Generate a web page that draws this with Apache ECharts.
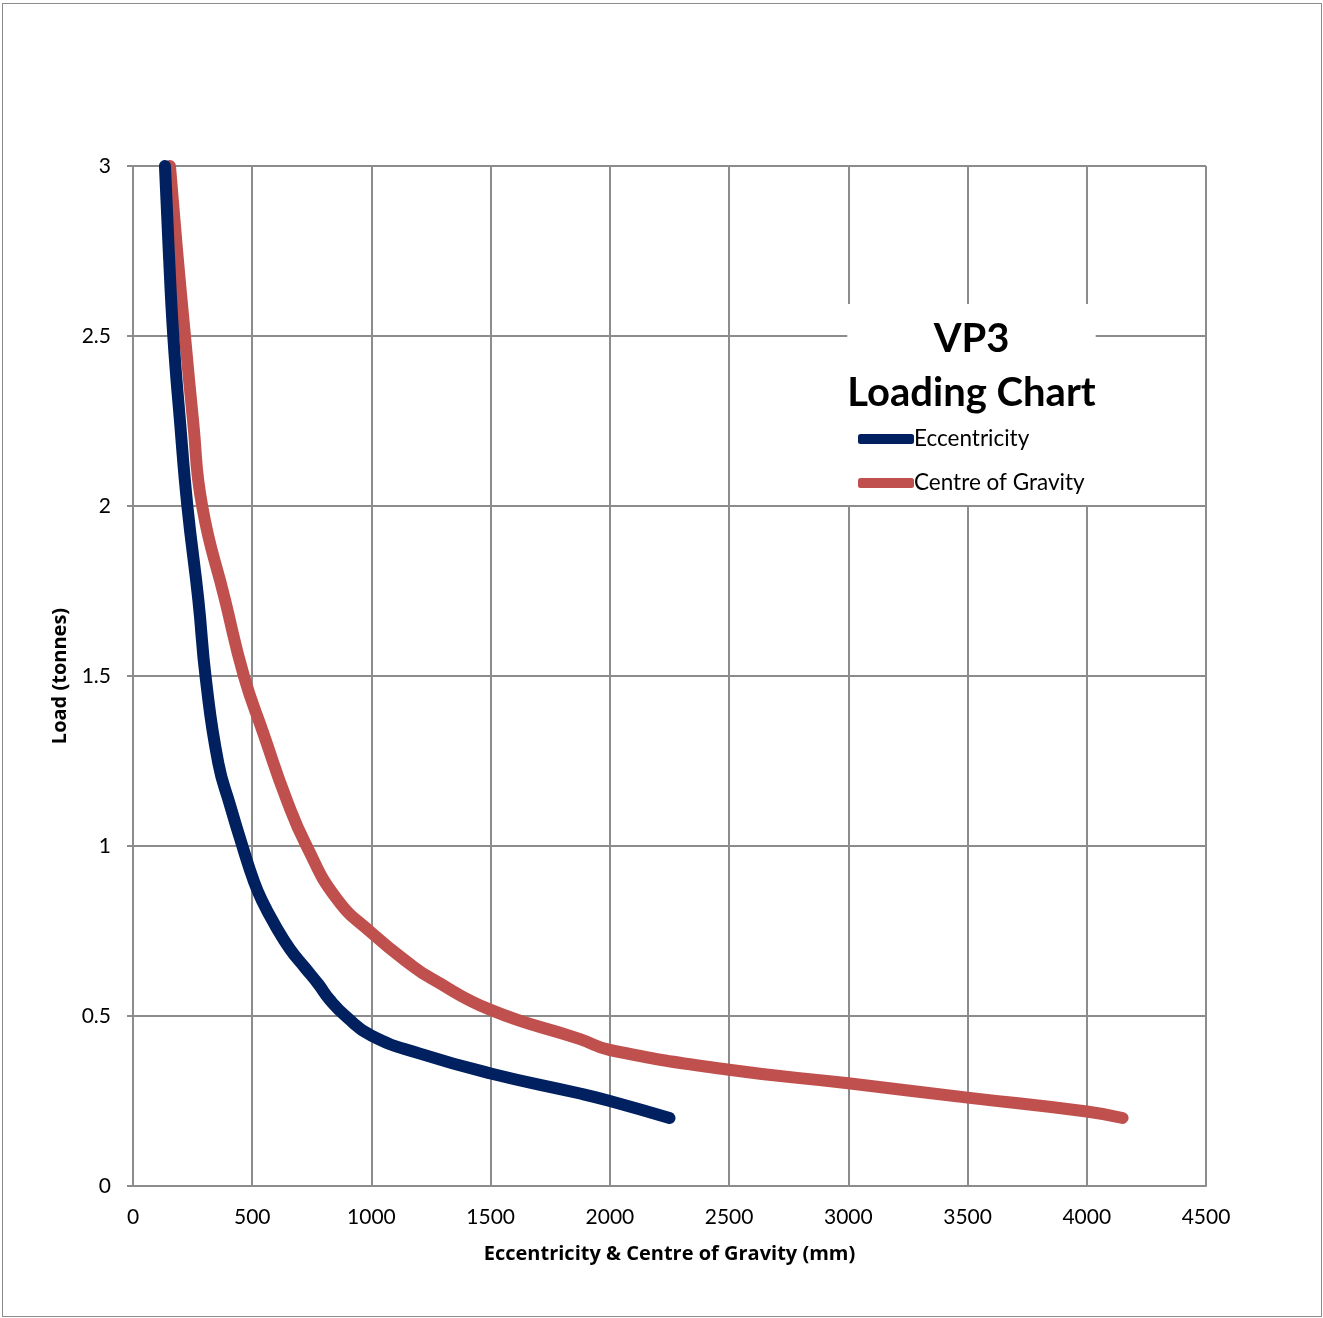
<!DOCTYPE html>
<html>
<head>
<meta charset="utf-8">
<script src="https://cdn.jsdelivr.net/npm/echarts@6/dist/echarts.min.js"></script>
<style>
html,body{margin:0;padding:0;background:#fff;}
#frame{position:absolute;left:2px;top:3px;width:1320px;height:1314px;border:1px solid #8c8c8c;box-sizing:border-box;}
#chart{position:absolute;left:0;top:0;width:1323px;height:1318px;}
</style>
</head>
<body>
<div id="frame"></div>
<div id="chart"></div>
<script>
const titleLines = ['VP3', 'Loading Chart'];
const seriesNames = ['Eccentricity', 'Centre of Gravity'];
const xTicks = [0, 500, 1000, 1500, 2000, 2500, 3000, 3500, 4000, 4500];
const yTicks = [0, 0.5, 1, 1.5, 2, 2.5, 3];
const xAxisName = 'Eccentricity & Centre of Gravity (mm)';
const yAxisName = 'Load (tonnes)';

// [mm, tonnes]
const eccentricity = [
  [134, 3.0], [150, 2.75], [169, 2.5], [197, 2.25], [228, 2.0], [274, 1.724],
  [306, 1.488], [358, 1.243], [407, 1.12], [463, 0.99], [505, 0.9], [540, 0.841],
  [600, 0.762], [658, 0.697], [720, 0.643], [777, 0.594], [826, 0.547], [896, 0.497],
  [1000, 0.442], [1200, 0.39], [1500, 0.331], [1875, 0.272], [2000, 0.25], [2250, 0.2]
];
const centreOfGravity = [
  [155, 3.0], [185, 2.75], [218, 2.5], [252, 2.25], [290, 2.0], [386, 1.724],
  [465, 1.5], [547, 1.331], [645, 1.135], [728, 1.0], [854, 0.845], [1000, 0.745],
  [1176, 0.645], [1250, 0.611], [1500, 0.518], [1875, 0.432], [2000, 0.40],
  [2500, 0.342], [3000, 0.302], [3500, 0.26], [4000, 0.219], [4150, 0.2]
];

const colors = ['#002060', '#c0504d'];
const font = 'Lato, "Open Sans", sans-serif';
const nameFont = '"Open Sans", Lato, sans-serif';

const chart = echarts.init(document.getElementById('chart'), null, {renderer: 'canvas'});
chart.setOption({
  animation: false,
  backgroundColor: 'transparent',
  color: colors,
  title: {
    text: titleLines.map(t => '{t|' + t + '}').join('\n'),
    left: 848, top: 297,
    backgroundColor: '#fff',
    padding: [15, 0, 8, 0],
    textStyle: {
      rich: {t: {fontFamily: font, fontWeight: 'bold', fontSize: 40, lineHeight: 54, color: '#000', width: 247, align: 'center'}}
    }
  },
  legend: {
    orient: 'vertical',
    left: 848, top: 419,
    backgroundColor: '#fff',
    padding: [8, 12, 10, 10],
    itemGap: 20,
    itemWidth: 56, itemHeight: 10,
    icon: 'roundRect',
    data: seriesNames,
    textStyle: {fontFamily: font, fontSize: 22.5, color: '#000', padding: [0, 0, 0, -5], lineHeight: 24}
  },
  grid: {left: 133, right: 117, top: 166, bottom: 132, containLabel: false},
  xAxis: {
    type: 'value', min: 0, max: 4500, interval: 500,
    name: xAxisName, nameLocation: 'middle', nameGap: 58,
    nameTextStyle: {fontFamily: nameFont, fontWeight: 'bold', fontSize: 20, color: '#000'},
    axisLine: {show: true, lineStyle: {color: '#8c8c8c', width: 2}},
    axisTick: {show: false},
    axisLabel: {fontFamily: font, fontSize: 21, color: '#000', margin: 21,
      formatter: v => xTicks.includes(v) ? String(v) : ''},
    splitLine: {show: true, lineStyle: {color: '#8c8c8c', width: 2}}
  },
  yAxis: {
    type: 'value', min: 0, max: 3, interval: 0.5,
    name: yAxisName, nameLocation: 'middle', nameGap: 62, nameRotate: 90,
    nameTextStyle: {fontFamily: nameFont, fontWeight: 'bold', fontSize: 20, color: '#000'},
    axisLine: {show: true, lineStyle: {color: '#8c8c8c', width: 2}},
    axisTick: {show: true, length: 6, lineStyle: {color: '#8c8c8c', width: 2}},
    axisLabel: {fontFamily: font, fontSize: 21, color: '#000', margin: 22,
      formatter: v => yTicks.includes(v) ? String(v) : ''},
    splitLine: {show: true, lineStyle: {color: '#8c8c8c', width: 2}}
  },
  series: [
    {name: seriesNames[0], type: 'line', data: eccentricity, smooth: 0.5, showSymbol: false,
     lineStyle: {width: 12, color: colors[0], cap: 'round', join: 'round'}, z: 3},
    {name: seriesNames[1], type: 'line', data: centreOfGravity, smooth: 0.5, showSymbol: false,
     lineStyle: {width: 12, color: colors[1], cap: 'round', join: 'round'}, z: 2}
  ]
});
</script>
</body>
</html>
